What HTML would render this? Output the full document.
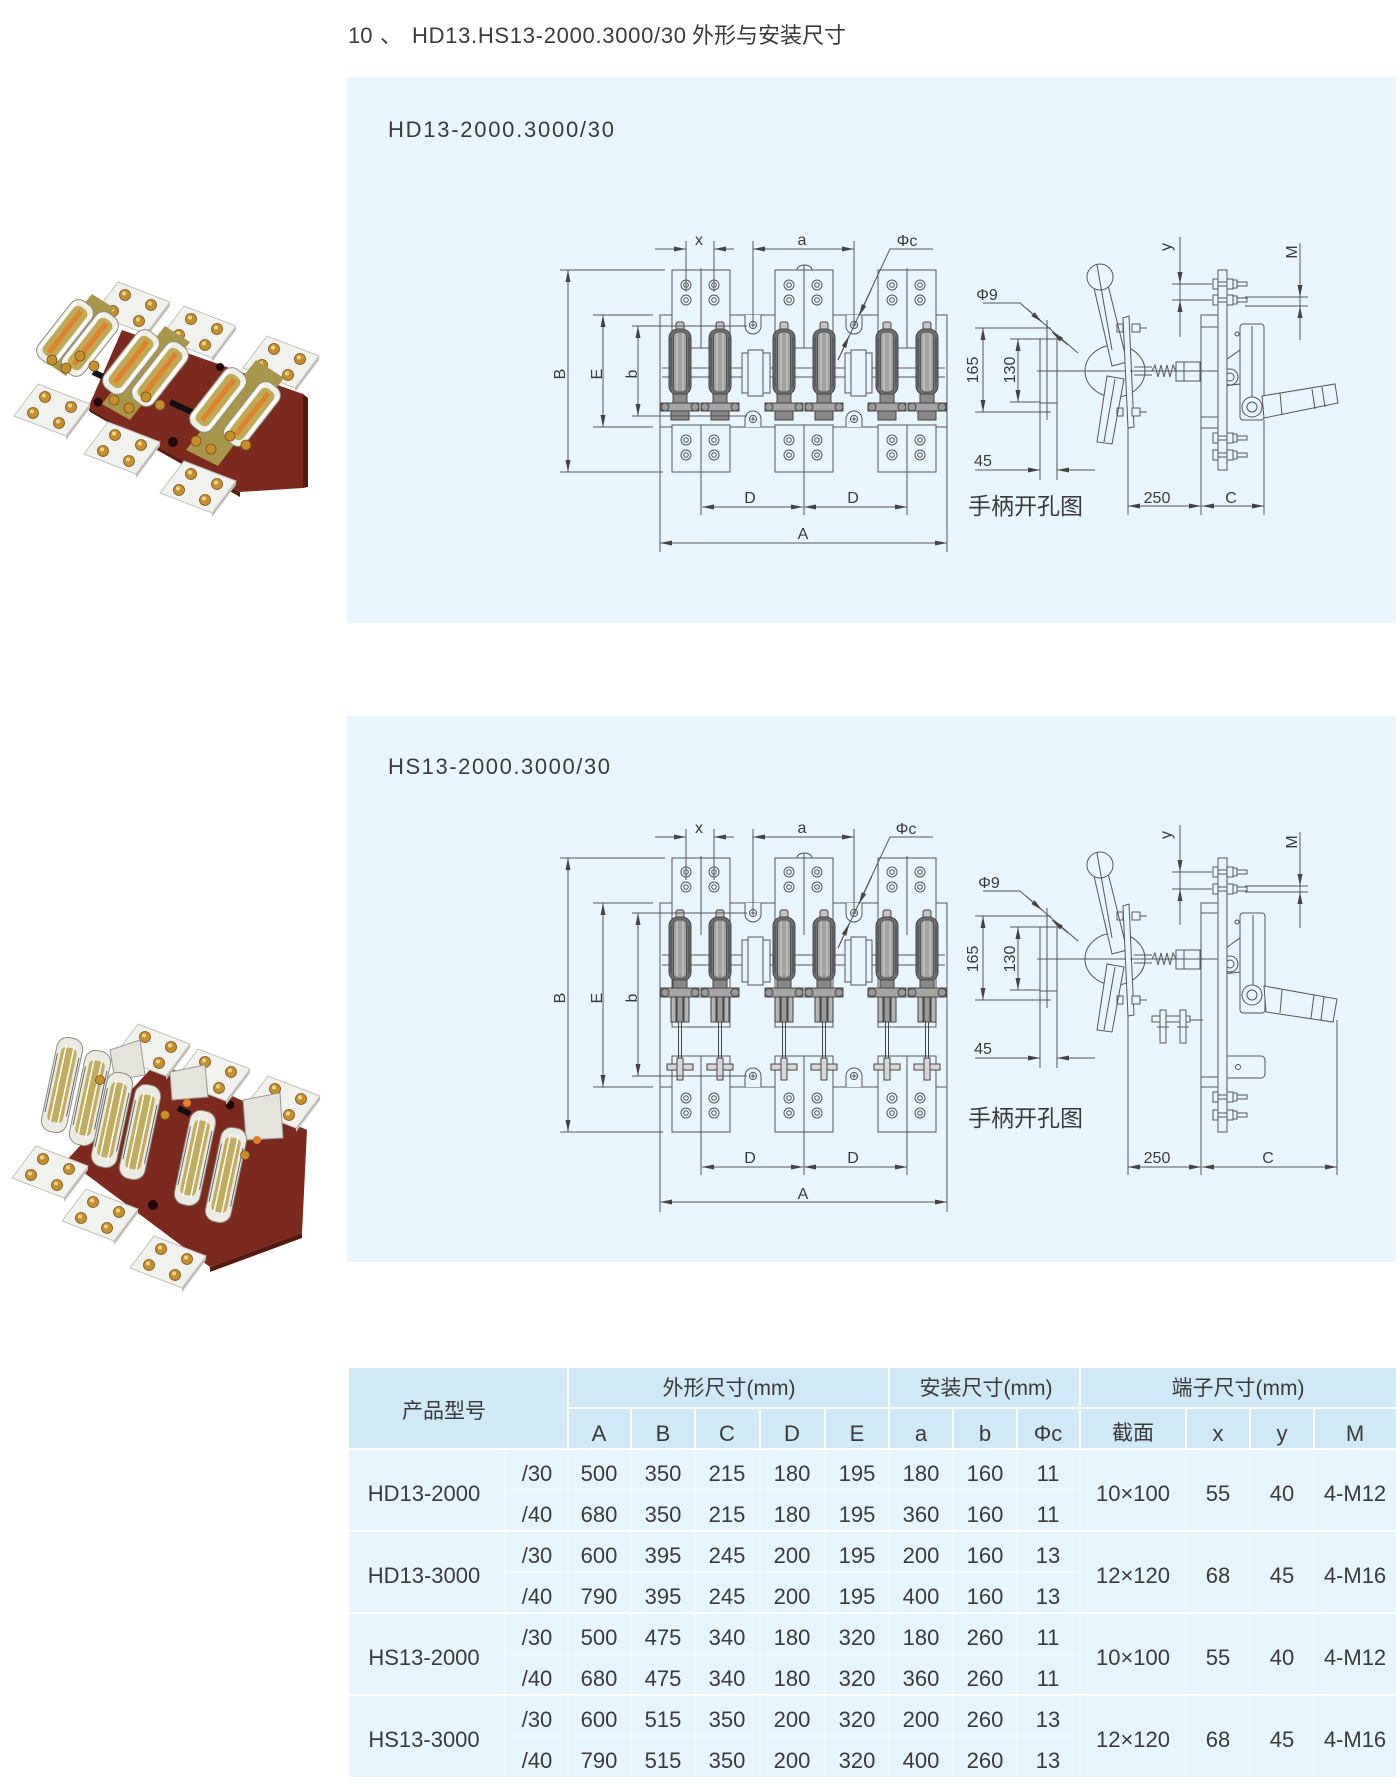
<!DOCTYPE html>
<html><head><meta charset="utf-8">
<style>
html,body{margin:0;padding:0;background:#fff;}
svg{display:block;}
text{font-family:"Liberation Sans","Noto Sans CJK SC",sans-serif;fill:#3a3a3a;}
.lb{font-size:16px;fill:#444;}
</style></head><body>
<svg width="1400" height="1787" viewBox="0 0 1400 1787" xmlns="http://www.w3.org/2000/svg">
<defs>
<marker id="ar" viewBox="0 0 12 5" refX="12" refY="2.5" markerWidth="12" markerHeight="5" markerUnits="userSpaceOnUse" orient="auto-start-reverse"><path d="M0,0 L12,2.5 L0,5z" fill="#444"/></marker>
<g id="bc" fill="none" stroke="#555" stroke-width="1"><circle r="5"/><circle r="2.3"/></g>
<g id="tb"><use href="#bc"/><use href="#bc" x="28"/><use href="#bc" y="15"/><use href="#bc" x="28" y="15"/></g>
<g id="hole" fill="none" stroke="#555"><circle r="3.6"/><path d="M-2.5,0h5M0,-2.5v5"/></g>
<g id="fz" stroke="#444" stroke-width="1">
 <rect x="-4" y="0" width="8" height="8" rx="2" fill="#c4c4c4"/>
 <rect x="-11" y="7" width="22" height="66" rx="9" fill="#707070"/>
 <rect x="-6.5" y="10" width="13" height="60" rx="4" fill="#a2a2a2" stroke="#555"/>
 <path d="M-3,12v56M3,12v56" stroke="#e0e0e0" stroke-width="0.8"/>
 <path d="M-9,15v50M9,15v50" stroke="#444" stroke-width="0.8"/>
 <rect x="-7" y="72" width="14" height="12" fill="#8a8a8a"/>
 <rect x="-19" y="81" width="38" height="8" fill="#a5a5a5"/>
 <circle cx="-15" cy="85" r="4" fill="#999"/><circle cx="15" cy="85" r="4" fill="#999"/>
 <rect x="-9" y="89" width="18" height="9" fill="#888"/>
</g>
<g id="fz2" stroke="#444" stroke-width="1">
 <rect x="-4" y="0" width="8" height="8" rx="2" fill="#c4c4c4"/>
 <rect x="-11" y="7" width="22" height="64" rx="9" fill="#707070"/>
 <rect x="-6.5" y="10" width="13" height="58" rx="4" fill="#a2a2a2" stroke="#555"/>
 <path d="M-3,12v54M3,12v54" stroke="#e0e0e0" stroke-width="0.8"/>
 <path d="M-9,15v48M9,15v48" stroke="#444" stroke-width="0.8"/>
 <rect x="-7" y="70" width="14" height="8" fill="#8a8a8a"/>
 <rect x="-19" y="78" width="38" height="9" fill="#a5a5a5"/>
 <circle cx="-15" cy="82.5" r="4" fill="#999"/><circle cx="15" cy="82.5" r="4" fill="#999"/>
 <rect x="-9" y="87" width="5" height="25" fill="#b5b5b5"/><rect x="4" y="87" width="5" height="25" fill="#b5b5b5"/>
 <rect x="-3" y="87" width="6" height="25" fill="#999"/>
 <path d="M-1.5,112V166M1.5,112V166" fill="none"/>
 <rect x="-13" y="154" width="26" height="6" fill="#d8d8d8"/><rect x="-3" y="148" width="6" height="22" fill="#d8d8d8"/>
</g>
<g id="bt" stroke="#555" fill="#e9f5fc">
 <rect x="0" y="-5" width="5" height="10"/><rect x="5" y="-2" width="29" height="4"/><rect x="14" y="-5" width="6" height="10"/><rect x="20" y="-4" width="4" height="8"/>
</g>
<g id="hnd" stroke="#555" stroke-width="1" fill="none">
 <polyline points="983,303 1020,303 1078,353"/>
 <line x1="1026" y1="308" x2="1042" y2="322" marker-end="url(#ar)"/>
 <line x1="1068" y1="345" x2="1052" y2="332" marker-end="url(#ar)"/>
 <path d="M1043,328h8M1047,324v8"/>
 <path d="M975,328H1050M975,412H1050"/>
 <line x1="983" y1="328" x2="983" y2="412" marker-start="url(#ar)" marker-end="url(#ar)"/>
 <path d="M1010,339H1040M1010,402H1040"/>
 <line x1="1018" y1="339" x2="1018" y2="402" marker-start="url(#ar)" marker-end="url(#ar)"/>
 <rect x="1040" y="339" width="17" height="64"/>
 <path d="M1047,320V420M1043,412h8"/>
 <path d="M1040,403V480M1057,403V480"/>
 <line x1="975" y1="470" x2="1040" y2="470" marker-end="url(#ar)"/>
 <line x1="1095" y1="470" x2="1057" y2="470" marker-end="url(#ar)"/>
 <ellipse cx="1115" cy="371" rx="30" ry="26" fill="#e9f5fc"/>
 <path d="M1037,371H1130"/>
 <polygon points="1094,288 1108,285 1127,362 1112,366" fill="#e9f5fc"/>
 <circle cx="1100" cy="277" r="13" fill="#e9f5fc"/>
 <path d="M1097,265L1112,350"/>
 <polygon points="1107,376 1124,379 1112,444 1097,442" fill="#e9f5fc"/>
 <path d="M1115,379L1104,442"/>
 <polygon points="1123,318 1129,316 1134,427 1128,428" fill="#e9f5fc"/>
 <rect x="1132" y="324" width="8" height="8" fill="#e9f5fc"/><path d="M1140,328H1147"/><rect x="1117" y="324" width="6" height="8"/>
 <rect x="1132" y="408" width="8" height="8" fill="#e9f5fc"/><path d="M1140,412H1147"/><rect x="1117" y="408" width="6" height="8"/>
 <path d="M1134,367H1152M1134,375H1152"/>
 <polyline points="1152,371 1155,365 1158,377 1161,365 1164,377 1167,365 1170,377 1173,365 1176,371"/>
 <rect x="1176" y="362" width="24" height="19" fill="#e9f5fc"/>
 <path d="M1184,362V381"/>
</g>
<g id="tm">
 <polygon points="14,26 38,-6 38,-2 14,30" fill="#bdbdb5"/>
 <polygon points="14,26 38,-6 -14,-26 -38,6" fill="#f1f1ee" stroke="#c4c4bc"/>
 <g fill="#c58f2e" stroke="#7a5214" stroke-width="0.8">
  <circle cx="19" cy="-3" r="5.5"/><circle cx="7" cy="13" r="5.5"/><circle cx="-7" cy="-13" r="5.5"/><circle cx="-19" cy="3" r="5.5"/>
 </g>
 <g fill="#f1d585"><circle cx="18" cy="-4.5" r="2"/><circle cx="6" cy="11.5" r="2"/><circle cx="-8" cy="-14.5" r="2"/><circle cx="-20" cy="1.5" r="2"/></g>
</g>
<g id="bl">
 <rect x="-36" y="-13" width="72" height="26" rx="10" fill="#efeee6" stroke="#8f8d82"/>
 <rect x="-30" y="-8" width="60" height="16" rx="6" fill="#bfa957"/>
 <rect x="-26" y="-2.5" width="52" height="5" fill="#e0802a"/>
 <path d="M-31,-10H31M-31,10H31" stroke="#fff" stroke-width="2"/>
</g>
<g id="bl2">
 <rect x="-13" y="-48" width="26" height="96" rx="11" fill="#ecebe3" stroke="#8d8b80"/>
 <rect x="-8" y="-38" width="16" height="76" rx="5" fill="#c2ad5e"/>
 <path d="M-4,-40V40M4,-40V40" stroke="#fff" stroke-width="1.5"/>
 <path d="M-11,-30V30M11,-30V30" stroke="#666"/>
</g>
</defs>

<!-- Title -->
<text x="348" y="43" font-size="22">10</text>
<text x="380" y="43" font-size="22">、</text>
<text x="412" y="43" font-size="22" textLength="274">HD13.HS13-2000.3000/30</text>
<text x="692" y="43" font-size="22" textLength="154">外形与安装尺寸</text>

<!-- Panels -->
<rect x="347" y="77" width="1049" height="546" fill="#e9f5fc"/>
<rect x="347" y="716" width="1049" height="546" fill="#e9f5fc"/>
<text x="388" y="137" font-size="22" textLength="226">HD13-2000.3000/30</text>
<text x="388" y="774" font-size="22" textLength="222">HS13-2000.3000/30</text>

<!-- ========== PANEL 1 FRONT VIEW ========== -->
<g stroke="#555" stroke-width="1" fill="none">
 <rect x="660" y="315" width="287" height="112" fill="#e9f5fc"/>
 <rect x="672" y="270" width="58" height="78" fill="#e9f5fc"/>
 <rect x="775" y="270" width="58" height="78" fill="#e9f5fc"/>
 <rect x="878" y="270" width="58" height="78" fill="#e9f5fc"/>
 <rect x="672" y="425" width="58" height="47" fill="#e9f5fc"/>
 <rect x="775" y="425" width="58" height="47" fill="#e9f5fc"/>
 <rect x="878" y="425" width="58" height="47" fill="#e9f5fc"/>
 <path d="M797,270a7.5,5 0 0 1 15,0"/>
 <path d="M662,368H945M662,377H945"/>
 <rect x="742" y="353" width="28" height="40" fill="#e9f5fc"/>
 <rect x="748" y="350" width="15" height="46" fill="#e9f5fc"/>
 <rect x="845" y="353" width="27" height="40" fill="#e9f5fc"/>
 <rect x="851" y="350" width="15" height="46" fill="#e9f5fc"/>
 <path d="M745,315V326A8,8 0 0 0 761,326V315" fill="#e9f5fc"/>
 <path d="M846,315V326A8,8 0 0 0 862,326V315" fill="#e9f5fc"/>
 <path d="M745,427V419A8,8 0 0 1 761,419V427" fill="#e9f5fc"/>
 <path d="M846,427V419A8,8 0 0 1 862,419V427" fill="#e9f5fc"/>
 <path d="M701,268V348M804,265V348M907,268V348M701,425V515M804,425V515M907,425V515"/>
</g>
<use href="#hole" x="753" y="325"/><use href="#hole" x="854" y="325"/>
<use href="#hole" x="753" y="419"/><use href="#hole" x="854" y="419"/>
<use href="#tb" x="686" y="285"/><use href="#tb" x="789" y="285"/><use href="#tb" x="892" y="285"/>
<use href="#tb" x="686" y="440"/><use href="#tb" x="789" y="440"/><use href="#tb" x="892" y="440"/>
<use href="#fz" x="680" y="322"/><use href="#fz" x="720" y="322"/>
<use href="#fz" x="784" y="322"/><use href="#fz" x="824" y="322"/>
<use href="#fz" x="887" y="322"/><use href="#fz" x="927" y="322"/>
<g stroke="#555" stroke-width="1" fill="none">
 <path d="M686,241V292M714,241V292"/>
 <line x1="655" y1="249" x2="686" y2="249" marker-end="url(#ar)"/>
 <line x1="734" y1="249" x2="714" y2="249" marker-end="url(#ar)"/>
 <path d="M753,241V326M854,241V326"/>
 <line x1="753" y1="249" x2="854" y2="249" marker-start="url(#ar)" marker-end="url(#ar)"/>
 <polyline points="933,249 890,249 838,360"/>
 <line x1="872" y1="288" x2="859" y2="316" marker-end="url(#ar)"/>
 <line x1="838" y1="360" x2="849" y2="336" marker-end="url(#ar)"/>
 <path d="M560,270H665M560,472H663"/>
 <line x1="568" y1="270" x2="568" y2="472" marker-start="url(#ar)" marker-end="url(#ar)"/>
 <path d="M593,315H653M593,427H653"/>
 <line x1="603" y1="315" x2="603" y2="427" marker-start="url(#ar)" marker-end="url(#ar)"/>
 <path d="M632,326H747M632,416H747"/>
 <line x1="638" y1="326" x2="638" y2="416" marker-start="url(#ar)" marker-end="url(#ar)"/>
 <line x1="702" y1="507" x2="803" y2="507" marker-start="url(#ar)" marker-end="url(#ar)"/>
 <line x1="804" y1="507" x2="907" y2="507" marker-start="url(#ar)" marker-end="url(#ar)"/>
 <path d="M660,427V552M947,427V552"/>
 <line x1="660" y1="543" x2="947" y2="543" marker-start="url(#ar)" marker-end="url(#ar)"/>
</g>
<g class="lb" text-anchor="middle">
 <text x="699" y="245">x</text><text x="802" y="245">a</text><text x="907" y="246">Φc</text>
 <text x="750" y="503">D</text><text x="853" y="503">D</text><text x="803" y="539">A</text>
 <text transform="translate(565,374) rotate(-90)">B</text>
 <text transform="translate(602,374) rotate(-90)">E</text>
 <text transform="translate(637,374) rotate(-90)">b</text>
</g>

<!-- ========== PANEL 1 SIDE VIEW ========== -->
<use href="#hnd"/>
<g stroke="#555" stroke-width="1" fill="none">
 <rect x="1201" y="315" width="22" height="113" fill="#e9f5fc"/>
 <path d="M1201,327H1218M1201,417H1218"/>
 <path d="M1130,371H1247"/>
 <path d="M1223,362L1240,350V384L1223,386" fill="#e9f5fc"/>
 <circle cx="1230" cy="377" r="8" fill="#e9f5fc"/><circle cx="1230" cy="377" r="4"/>
 <rect x="1240" y="324" width="24" height="96" rx="3" fill="#e9f5fc"/>
 <path d="M1252,326V398"/>
 <circle cx="1237" cy="334" r="2"/>
 <polygon points="1262,396 1335,384 1338,403 1264,418" fill="#e9f5fc"/>
 <path d="M1280,393L1282,415M1312,389L1315,409M1322,387L1325,407"/>
 <circle cx="1252" cy="407" r="10" fill="#e9f5fc"/><circle cx="1252" cy="407" r="5"/>
 <rect x="1218" y="270" width="9" height="200" fill="#e9f5fc"/>
 <path d="M1128,428V515M1201,428V515M1264,420V515"/>
 <line x1="1128" y1="506" x2="1201" y2="506" marker-start="url(#ar)" marker-end="url(#ar)"/>
 <line x1="1202" y1="506" x2="1264" y2="506" marker-start="url(#ar)" marker-end="url(#ar)"/>
 <path d="M1180,237V337M1172,284H1212M1172,300H1212"/>
 <line x1="1180" y1="258" x2="1180" y2="284" marker-end="url(#ar)"/>
 <line x1="1180" y1="326" x2="1180" y2="300" marker-end="url(#ar)"/>
 <path d="M1300,243V340M1245,297H1308M1245,306H1308"/>
 <line x1="1300" y1="268" x2="1300" y2="297" marker-end="url(#ar)"/>
 <line x1="1300" y1="332" x2="1300" y2="306" marker-end="url(#ar)"/>
</g>
<use href="#bt" x="1213" y="284"/><use href="#bt" x="1213" y="300"/>
<use href="#bt" x="1213" y="438"/><use href="#bt" x="1213" y="455"/>
<g class="lb" text-anchor="middle">
 <text x="987" y="300">Φ9</text>
 <text transform="translate(978,370) rotate(-90)">165</text>
 <text transform="translate(1015,370) rotate(-90)">130</text>
 <text x="983" y="466">45</text>
 <text x="1157" y="503">250</text><text x="1231" y="503">C</text>
 <text transform="translate(1171,247) rotate(-90)">y</text>
 <text transform="translate(1297,252) rotate(-90)">M</text>
</g>
<text x="968" y="514" font-size="23" textLength="115">手柄开孔图</text>

<!-- ========== PANEL 2 FRONT VIEW ========== -->
<g stroke="#555" stroke-width="1" fill="none">
 <rect x="660" y="903" width="287" height="184" fill="#e9f5fc"/>
 <rect x="672" y="858" width="58" height="169" fill="#e9f5fc"/>
 <rect x="775" y="858" width="58" height="169" fill="#e9f5fc"/>
 <rect x="878" y="858" width="58" height="169" fill="#e9f5fc"/>
 <rect x="672" y="1056" width="58" height="76" fill="#e9f5fc"/>
 <rect x="775" y="1056" width="58" height="76" fill="#e9f5fc"/>
 <rect x="878" y="1056" width="58" height="76" fill="#e9f5fc"/>
 <path d="M797,858a7.5,5 0 0 1 15,0"/>
 <path d="M662,955H945M662,965H945"/>
 <rect x="742" y="940" width="28" height="42" fill="#e9f5fc"/>
 <rect x="748" y="937" width="15" height="48" fill="#e9f5fc"/>
 <rect x="845" y="940" width="27" height="42" fill="#e9f5fc"/>
 <rect x="851" y="937" width="15" height="48" fill="#e9f5fc"/>
 <path d="M745,903V914A8,8 0 0 0 761,914V903" fill="#e9f5fc"/>
 <path d="M846,903V914A8,8 0 0 0 862,914V903" fill="#e9f5fc"/>
 <path d="M745,1087V1076A8,8 0 0 1 761,1076V1087" fill="#e9f5fc"/>
 <path d="M846,1087V1076A8,8 0 0 1 862,1076V1087" fill="#e9f5fc"/>
 <path d="M701,856V935M804,853V935M907,856V935M701,1056V1175M804,1056V1175M907,1056V1175"/>
</g>
<use href="#hole" x="753" y="913"/><use href="#hole" x="854" y="913"/>
<use href="#hole" x="753" y="1076"/><use href="#hole" x="854" y="1076"/>
<use href="#tb" x="686" y="872"/><use href="#tb" x="789" y="872"/><use href="#tb" x="892" y="872"/>
<use href="#tb" x="686" y="1098"/><use href="#tb" x="789" y="1098"/><use href="#tb" x="892" y="1098"/>
<use href="#fz2" x="680" y="910"/><use href="#fz2" x="720" y="910"/>
<use href="#fz2" x="784" y="910"/><use href="#fz2" x="824" y="910"/>
<use href="#fz2" x="887" y="910"/><use href="#fz2" x="927" y="910"/>
<g stroke="#555" stroke-width="1" fill="none">
 <path d="M686,829V880M714,829V880"/>
 <line x1="655" y1="837" x2="686" y2="837" marker-end="url(#ar)"/>
 <line x1="734" y1="837" x2="714" y2="837" marker-end="url(#ar)"/>
 <path d="M753,829V913M854,829V913"/>
 <line x1="753" y1="837" x2="854" y2="837" marker-start="url(#ar)" marker-end="url(#ar)"/>
 <polyline points="933,837 890,837 838,948"/>
 <line x1="872" y1="876" x2="859" y2="904" marker-end="url(#ar)"/>
 <line x1="838" y1="948" x2="849" y2="924" marker-end="url(#ar)"/>
 <path d="M560,858H665M560,1132H663"/>
 <line x1="568" y1="858" x2="568" y2="1132" marker-start="url(#ar)" marker-end="url(#ar)"/>
 <path d="M593,903H653M593,1087H653"/>
 <line x1="603" y1="903" x2="603" y2="1087" marker-start="url(#ar)" marker-end="url(#ar)"/>
 <path d="M632,913H747M632,1076H747"/>
 <line x1="638" y1="913" x2="638" y2="1076" marker-start="url(#ar)" marker-end="url(#ar)"/>
 <line x1="702" y1="1167" x2="803" y2="1167" marker-start="url(#ar)" marker-end="url(#ar)"/>
 <line x1="804" y1="1167" x2="907" y2="1167" marker-start="url(#ar)" marker-end="url(#ar)"/>
 <path d="M660,1087V1212M947,1087V1212"/>
 <line x1="660" y1="1202" x2="947" y2="1202" marker-start="url(#ar)" marker-end="url(#ar)"/>
</g>
<g class="lb" text-anchor="middle">
 <text x="699" y="833">x</text><text x="802" y="833">a</text><text x="906" y="834">Φc</text>
 <text x="750" y="1163">D</text><text x="853" y="1163">D</text><text x="803" y="1199">A</text>
 <text transform="translate(565,998) rotate(-90)">B</text>
 <text transform="translate(602,998) rotate(-90)">E</text>
 <text transform="translate(637,998) rotate(-90)">b</text>
</g>

<!-- ========== PANEL 2 SIDE VIEW ========== -->
<use href="#hnd" y="588"/>
<g stroke="#555" stroke-width="1" fill="none">
 <rect x="1201" y="903" width="22" height="184" fill="#e9f5fc"/>
 <path d="M1201,913H1218M1201,1077H1218"/>
 <path d="M1130,959H1247"/>
 <path d="M1190,1020H1203"/>
 <rect x="1152" y="1016" width="38" height="6" fill="#e9f5fc"/>
 <rect x="1160" y="1010" width="6" height="33" fill="#e9f5fc"/><rect x="1180" y="1010" width="6" height="33" fill="#e9f5fc"/>
 <path d="M1157,1027h12M1177,1027h12"/>
 <path d="M1223,950L1240,938V972L1223,974" fill="#e9f5fc"/>
 <circle cx="1230" cy="964" r="8" fill="#e9f5fc"/><circle cx="1230" cy="964" r="4"/>
 <rect x="1240" y="913" width="25" height="100" rx="3" fill="#e9f5fc"/>
 <path d="M1253,915V985"/>
 <circle cx="1237" cy="922" r="2"/>
 <polygon points="1264,986 1337,999 1333,1022 1266,1012" fill="#e9f5fc"/>
 <path d="M1282,990L1280,1013M1314,995L1311,1018M1324,997L1321,1020"/>
 <circle cx="1252" cy="995" r="10" fill="#e9f5fc"/><circle cx="1252" cy="995" r="5"/>
 <rect x="1222" y="1056" width="43" height="22" rx="4" fill="#e9f5fc"/>
 <circle cx="1238" cy="1067" r="2.5"/>
 <rect x="1218" y="858" width="9" height="274" fill="#e9f5fc"/>
 <path d="M1128,1016V1175M1201,1087V1175M1337,1020V1175"/>
 <line x1="1128" y1="1167" x2="1201" y2="1167" marker-start="url(#ar)" marker-end="url(#ar)"/>
 <line x1="1202" y1="1167" x2="1337" y2="1167" marker-start="url(#ar)" marker-end="url(#ar)"/>
 <path d="M1180,825V925M1172,872H1212M1172,889H1212"/>
 <line x1="1180" y1="846" x2="1180" y2="872" marker-end="url(#ar)"/>
 <line x1="1180" y1="915" x2="1180" y2="889" marker-end="url(#ar)"/>
 <path d="M1300,832V928M1245,886H1308M1245,892H1308"/>
 <line x1="1300" y1="857" x2="1300" y2="886" marker-end="url(#ar)"/>
 <line x1="1300" y1="920" x2="1300" y2="892" marker-end="url(#ar)"/>
</g>
<use href="#bt" x="1213" y="872"/><use href="#bt" x="1213" y="889"/>
<use href="#bt" x="1213" y="1097"/><use href="#bt" x="1213" y="1115"/>
<g class="lb" text-anchor="middle">
 <text x="989" y="888">Φ9</text>
 <text transform="translate(978,959) rotate(-90)">165</text>
 <text transform="translate(1015,959) rotate(-90)">130</text>
 <text x="983" y="1054">45</text>
 <text x="1157" y="1163">250</text><text x="1268" y="1163">C</text>
 <text transform="translate(1171,835) rotate(-90)">y</text>
 <text transform="translate(1297,842) rotate(-90)">M</text>
</g>
<text x="968" y="1126" font-size="23" textLength="115">手柄开孔图</text>

<!-- ========== PHOTO 1 ========== -->
<g>
 <polygon points="122,330 303,394 303,488 240,492 88,408" fill="#7c2a1d"/>
 <polygon points="303,394 308,398 308,487 303,488" fill="#561910"/>
 <polygon points="88,408 240,492 240,497 90,412" fill="#5a1b11"/>
 <circle cx="98" cy="402" r="4.5" fill="#220806"/>
 <circle cx="173" cy="442" r="5" fill="#220806"/>
 <circle cx="220" cy="367" r="4" fill="#220806"/>
 <use href="#tm" x="132" y="308"/><use href="#tm" x="198" y="332"/><use href="#tm" x="281" y="362"/>
 <path d="M93,372L114,382M170,402L194,413" stroke="#111" stroke-width="6"/>
 <g fill="#a8964c">
  <polygon points="40,358 66,376 114,308 92,294"/>
  <polygon points="102,404 130,420 190,342 165,326"/>
  <polygon points="186,450 218,466 284,378 256,360"/>
 </g>
 <use href="#bl" transform="translate(65,332) rotate(-52)"/>
 <use href="#bl" transform="translate(90,344) rotate(-52)"/>
 <use href="#bl" transform="translate(131,362) rotate(-52)"/>
 <use href="#bl" transform="translate(160,374) rotate(-52)"/>
 <use href="#bl" transform="translate(218,400) rotate(-52)"/>
 <use href="#bl" transform="translate(252,414) rotate(-52)"/>
 <g fill="#c58f2e" stroke="#7a5214" stroke-width="0.8">
  <circle cx="52" cy="360" r="5"/><circle cx="66" cy="368" r="5"/><circle cx="80" cy="356" r="5"/><circle cx="94" cy="366" r="5"/>
  <circle cx="114" cy="400" r="5"/><circle cx="129" cy="408" r="5"/><circle cx="146" cy="397" r="5"/><circle cx="160" cy="405" r="5"/>
  <circle cx="196" cy="441" r="5"/><circle cx="211" cy="449" r="5"/><circle cx="230" cy="436" r="5"/><circle cx="246" cy="445" r="5"/>
 </g>
 <use href="#tm" x="52" y="410"/><use href="#tm" x="122" y="448"/><use href="#tm" x="198" y="487"/>
</g>

<!-- ========== PHOTO 2 ========== -->
<g>
 <polygon points="157,1062 307,1130 302,1233 210,1267 67,1160" fill="#7c2a1d"/>
 <polygon points="302,1233 210,1267 210,1272 302,1238" fill="#561910"/>
 <circle cx="230" cy="1105" r="4.5" fill="#220806"/>
 <circle cx="153" cy="1205" r="5" fill="#220806"/>
 <use href="#tm" x="152" y="1050"/><use href="#tm" x="212" y="1075"/><use href="#tm" x="282" y="1102"/>
 <polygon points="110,1050 140,1040 145,1075 115,1080" fill="#e4e3dc" stroke="#999"/>
 <polygon points="170,1072 205,1065 208,1097 172,1100" fill="#e4e3dc" stroke="#999"/>
 <polygon points="243,1100 280,1093 283,1138 246,1140" fill="#e4e3dc" stroke="#999"/>
 <path d="M178,1108L190,1114" stroke="#111" stroke-width="6"/>
 <circle cx="187" cy="1103" r="4" fill="#e0802a"/><circle cx="257" cy="1140" r="4" fill="#e0802a"/>
 <use href="#bl2" transform="translate(62,1085) rotate(12)"/>
 <use href="#bl2" transform="translate(90,1098) rotate(12)"/>
 <use href="#bl2" transform="translate(112,1120) rotate(12)"/>
 <use href="#bl2" transform="translate(140,1132) rotate(12)"/>
 <use href="#bl2" transform="translate(195,1158) rotate(12)"/>
 <use href="#bl2" transform="translate(226,1175) rotate(12)"/>
 <g fill="#c58f2e" stroke="#7a5214" stroke-width="0.8">
  <circle cx="100" cy="1080" r="4.5"/><circle cx="165" cy="1115" r="4.5"/><circle cx="245" cy="1155" r="4.5"/>
 </g>
 <use href="#tm" x="50" y="1172"/><use href="#tm" x="100" y="1215"/><use href="#tm" x="168" y="1262"/>
</g>

<!-- ========== TABLE ========== -->
<rect x="349" y="1368" width="1047" height="81" fill="#cfe9f6"/>
<rect x="349" y="1449" width="1047" height="328" fill="#e6f4fb"/>
<g stroke="#fff" stroke-width="2" fill="none">
 <path d="M568,1408H1396"/>
 <path d="M568,1368V1449M889,1368V1449M1080,1368V1449"/>
 <path d="M631,1408V1449M695,1408V1449M760,1408V1449M825,1408V1449M953,1408V1449M1017,1408V1449M1186,1408V1449M1250,1408V1449M1314,1408V1449"/>
 <path d="M349,1449H1396M349,1531H1396M349,1613H1396M349,1695H1396"/>
</g>
<g stroke="#fff" stroke-width="1" stroke-opacity="0.8" fill="none">
 <path d="M505,1490H1080M505,1572H1080M505,1654H1080M505,1736H1080"/>
 <path d="M505,1449V1777M568,1449V1777M631,1449V1777M695,1449V1777M760,1449V1777M825,1449V1777M889,1449V1777M953,1449V1777M1017,1449V1777M1080,1449V1777M1186,1449V1777M1250,1449V1777M1314,1449V1777"/>
</g>
<g text-anchor="middle" font-size="21">
 <text x="444" y="1418">产品型号</text>
 <text x="729" y="1395">外形尺寸(mm)</text>
 <text x="986" y="1395">安装尺寸(mm)</text>
 <text x="1238" y="1395">端子尺寸(mm)</text>
</g>
<g text-anchor="middle" font-size="22">
 <text x="599" y="1441">A</text><text x="663" y="1441">B</text><text x="727" y="1441">C</text><text x="792" y="1441">D</text><text x="857" y="1441">E</text>
 <text x="921" y="1441">a</text><text x="985" y="1441">b</text><text x="1048" y="1441">Φc</text>
 <text x="1133" y="1440" font-size="21">截面</text><text x="1218" y="1441">x</text><text x="1282" y="1441">y</text><text x="1355" y="1441">M</text>

 <text x="424" y="1501">HD13-2000</text>
 <text x="424" y="1583">HD13-3000</text>
 <text x="424" y="1665">HS13-2000</text>
 <text x="424" y="1747">HS13-3000</text>

 <text x="1133" y="1501">10×100</text><text x="1218" y="1501">55</text><text x="1282" y="1501">40</text><text x="1355" y="1501">4-M12</text>
 <text x="1133" y="1583">12×120</text><text x="1218" y="1583">68</text><text x="1282" y="1583">45</text><text x="1355" y="1583">4-M16</text>
 <text x="1133" y="1665">10×100</text><text x="1218" y="1665">55</text><text x="1282" y="1665">40</text><text x="1355" y="1665">4-M12</text>
 <text x="1133" y="1747">12×120</text><text x="1218" y="1747">68</text><text x="1282" y="1747">45</text><text x="1355" y="1747">4-M16</text>

 <text x="537" y="1481">/30</text><text x="599" y="1481">500</text><text x="663" y="1481">350</text><text x="727" y="1481">215</text><text x="792" y="1481">180</text><text x="857" y="1481">195</text><text x="921" y="1481">180</text><text x="985" y="1481">160</text><text x="1048" y="1481">11</text>
 <text x="537" y="1522">/40</text><text x="599" y="1522">680</text><text x="663" y="1522">350</text><text x="727" y="1522">215</text><text x="792" y="1522">180</text><text x="857" y="1522">195</text><text x="921" y="1522">360</text><text x="985" y="1522">160</text><text x="1048" y="1522">11</text>
 <text x="537" y="1563">/30</text><text x="599" y="1563">600</text><text x="663" y="1563">395</text><text x="727" y="1563">245</text><text x="792" y="1563">200</text><text x="857" y="1563">195</text><text x="921" y="1563">200</text><text x="985" y="1563">160</text><text x="1048" y="1563">13</text>
 <text x="537" y="1604">/40</text><text x="599" y="1604">790</text><text x="663" y="1604">395</text><text x="727" y="1604">245</text><text x="792" y="1604">200</text><text x="857" y="1604">195</text><text x="921" y="1604">400</text><text x="985" y="1604">160</text><text x="1048" y="1604">13</text>
 <text x="537" y="1645">/30</text><text x="599" y="1645">500</text><text x="663" y="1645">475</text><text x="727" y="1645">340</text><text x="792" y="1645">180</text><text x="857" y="1645">320</text><text x="921" y="1645">180</text><text x="985" y="1645">260</text><text x="1048" y="1645">11</text>
 <text x="537" y="1686">/40</text><text x="599" y="1686">680</text><text x="663" y="1686">475</text><text x="727" y="1686">340</text><text x="792" y="1686">180</text><text x="857" y="1686">320</text><text x="921" y="1686">360</text><text x="985" y="1686">260</text><text x="1048" y="1686">11</text>
 <text x="537" y="1727">/30</text><text x="599" y="1727">600</text><text x="663" y="1727">515</text><text x="727" y="1727">350</text><text x="792" y="1727">200</text><text x="857" y="1727">320</text><text x="921" y="1727">200</text><text x="985" y="1727">260</text><text x="1048" y="1727">13</text>
 <text x="537" y="1768">/40</text><text x="599" y="1768">790</text><text x="663" y="1768">515</text><text x="727" y="1768">350</text><text x="792" y="1768">200</text><text x="857" y="1768">320</text><text x="921" y="1768">400</text><text x="985" y="1768">260</text><text x="1048" y="1768">13</text>
</g>
</svg>
</body></html>
